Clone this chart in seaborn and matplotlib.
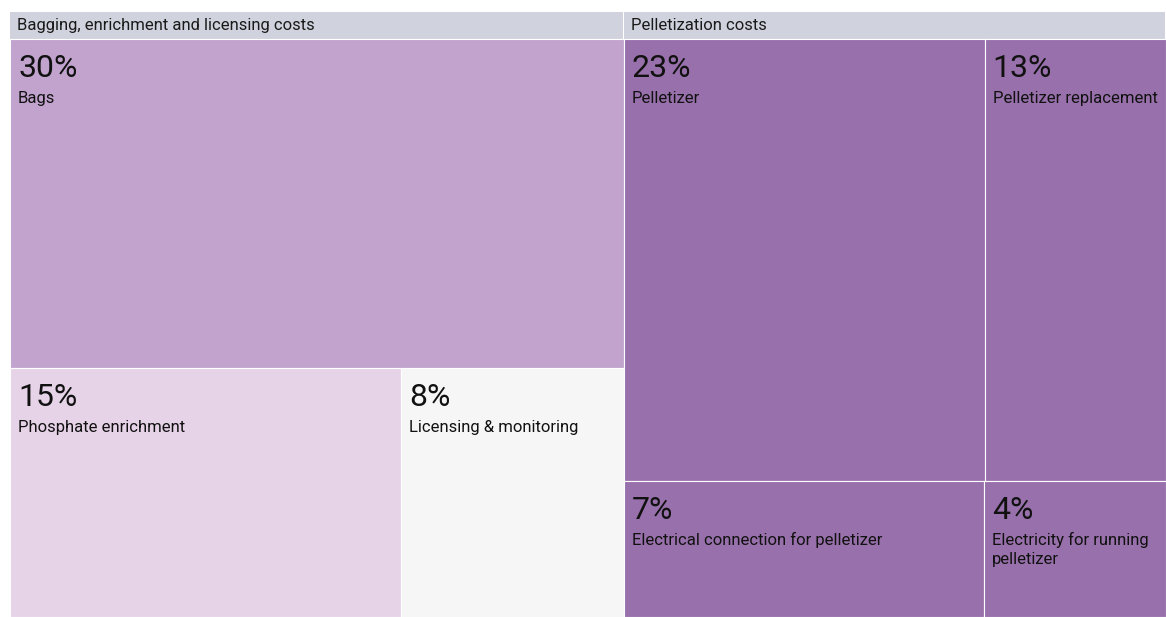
import matplotlib
matplotlib.use("Agg")
import matplotlib.pyplot as plt
from matplotlib.font_manager import FontProperties
import pandas as pd
import seaborn as sns

# ---------------- data ----------------
group_names = ["Bagging, enrichment and licensing costs", "Pelletization costs"]
item_names = ["Bags", "Phosphate enrichment", "Licensing & monitoring",
              "Pelletizer", "Pelletizer replacement",
              "Electrical connection for pelletizer", "Electricity for running pelletizer"]
item_groups = [0, 0, 0, 1, 1, 1, 1]
item_values = [30.2, 14.6, 8.3, 23.9, 12.0, 7.3, 3.7]      # area shares
value_labels = ["30%", "15%", "8%", "23%", "13%", "7%", "4%"]

# ---------------- style / layout ----------------
item_colors = ["#c1a3ce", "#e7d3e8", "#f6f6f6", "#9870ab", "#9870ab", "#9870ab", "#9870ab"]
header_color = "#d0d3de"
layout_rows = [[[0], [1, 2]], [[3, 4], [5, 6]]]   # rows of item indices inside each group

sns.set_theme(style="white")
plt.rcParams["font.family"] = ["Roboto", "DejaVu Sans"]

df = pd.DataFrame({"item": item_names, "group": item_groups,
                   "value": item_values, "label": value_labels, "color": item_colors})

W, H = 1166, 617
left_px, top_px, header_px = 10, 12, 27
content_px = H - top_px - header_px
content_w_px = W - left_px

fig = plt.figure(figsize=(W / 100, H / 100), dpi=100)
ax = fig.add_axes([left_px / W, 0, content_w_px / W, (H - top_px) / H])
hh = header_px / content_px * 100
ax.set_xlim(0, 100)
ax.set_ylim(100, -hh)
ax.axis("off")

px = 0.72  # points per pixel
gap = 1.0 * 100 / content_w_px
renderer = fig.canvas.get_renderer()
LABEL_SIZE = 12
label_fp = FontProperties(family=["Roboto", "DejaVu Sans"], size=LABEL_SIZE)


def text_w(s):
    w, h, d = renderer.get_text_width_height_descent(s, label_fp, ismath=False)
    return w


def wrap(s, max_w):
    words = s.split()
    lines, cur = [], ""
    for wd in words:
        cand = (cur + " " + wd).strip()
        if cur and text_w(cand) > max_w:
            lines.append(cur)
            cur = wd
        else:
            cur = cand
    lines.append(cur)
    return lines


total = df["value"].sum()
x0 = 0.0
for g, rows in enumerate(layout_rows):
    gval = sum(df.loc[i, "value"] for row in rows for i in row)
    gw = gval / total * 100
    ax.bar(x0, hh, width=gw - gap, bottom=-hh, align="edge", color=header_color, linewidth=0)
    ax.annotate(group_names[g], xy=(x0, 0), xytext=(7 * px, 9 * px),
                textcoords="offset points", ha="left", va="baseline",
                fontsize=LABEL_SIZE, color="#1a1a1a")
    y0 = 0.0
    for row in rows:
        rval = sum(df.loc[i, "value"] for i in row)
        rh = rval / gval * 100
        xx = x0
        for i in row:
            w = df.loc[i, "value"] / rval * gw
            ax.bar(xx, rh, width=w, bottom=y0, align="edge", color=df.loc[i, "color"],
                   edgecolor="white", linewidth=0.8)
            ax.annotate(df.loc[i, "label"], xy=(xx, y0), xytext=(8 * px, -38 * px),
                        textcoords="offset points", ha="left", va="baseline",
                        fontsize=23, fontweight="normal", color="#111111")
            cell_w_px = w / 100 * content_w_px
            for k, line in enumerate(wrap(df.loc[i, "item"], cell_w_px - 16)):
                ax.annotate(line, xy=(xx, y0), xytext=(8 * px, -(64 + 19 * k) * px),
                            textcoords="offset points", ha="left", va="baseline",
                            fontsize=LABEL_SIZE, color="#111111")
            xx += w
        y0 += rh
    x0 += gw

fig.savefig("out.png", dpi=100, facecolor="white")
